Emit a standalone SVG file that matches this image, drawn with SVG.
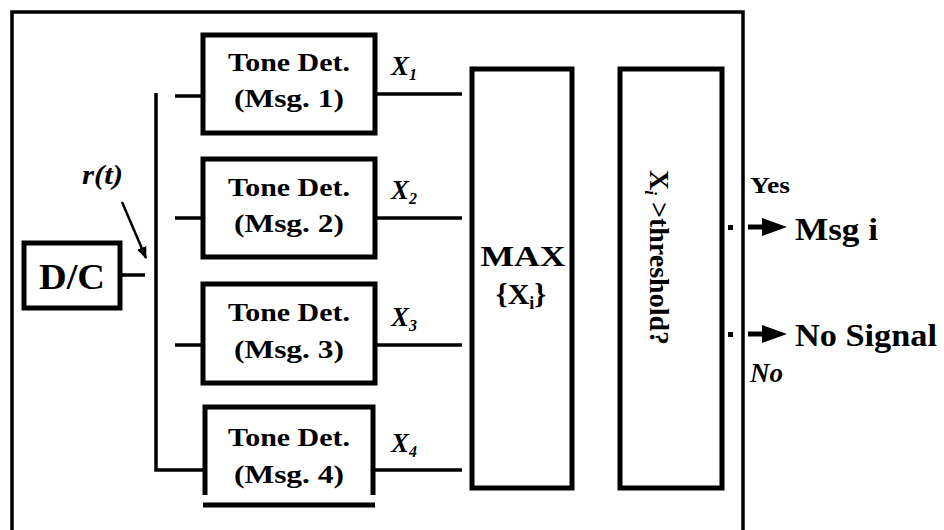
<svg xmlns="http://www.w3.org/2000/svg" width="944" height="530" viewBox="0 0 944 530">
  <style>
    .box { fill: #fff; stroke: #000; stroke-width: 5; }
    .wire { fill: none; stroke: #000; stroke-width: 3.5; }
    .frame { fill: none; stroke: #000; stroke-width: 3.5; }
    text { font-family: "Liberation Serif", "Times New Roman", "DejaVu Serif", serif; font-weight: bold; fill: #000; }
    .lbl { font-size: 26px; text-anchor: middle; }
    .it { font-style: italic; }
  </style>
  <defs>
    <marker id="head" markerWidth="12" markerHeight="10" refX="11" refY="5" orient="auto" markerUnits="userSpaceOnUse">
      <path d="M0,0 L12,5 L0,10 Z" fill="#000"/>
    </marker>
  </defs>

  <!-- outer enclosure: top, left and right edges only -->
  <path class="frame" d="M12,530 V12 H743 V530"/>

  <!-- connectors -->
  <g id="connectors">
    <!-- D/C to splitter -->
    <line class="wire" x1="120" y1="275" x2="145" y2="275"/>
    <!-- splitter bus -->
    <path class="wire" d="M156,93 V470 H203"/>
    <line class="wire" x1="175" y1="96" x2="203" y2="96"/>
    <line class="wire" x1="175" y1="218" x2="203" y2="218"/>
    <line class="wire" x1="175" y1="345" x2="203" y2="345"/>
    <!-- detector outputs -->
    <line class="wire" x1="375" y1="94" x2="462" y2="94"/>
    <line class="wire" x1="375" y1="218" x2="462" y2="218"/>
    <line class="wire" x1="375" y1="345" x2="462" y2="345"/>
    <line class="wire" x1="375" y1="470" x2="462" y2="470"/>
    <!-- r(t) pointer -->
    <line x1="122" y1="202" x2="146" y2="258" stroke="#000" stroke-width="2.5" marker-end="url(#head)"/>
    <!-- decision outputs -->
    <rect x="728" y="225" width="5" height="5" fill="#000"/>
    <rect x="728" y="332" width="5" height="5" fill="#000"/>
    <line x1="748" y1="227" x2="764" y2="227" stroke="#000" stroke-width="5"/>
    <path d="M762,218 L787,227 L762,236 Z" fill="#000"/>
    <line x1="748" y1="334" x2="764" y2="334" stroke="#000" stroke-width="5"/>
    <path d="M762,325 L787,334 L762,343 Z" fill="#000"/>
  </g>

  <!-- signal labels -->
  <text class="it" x="82" y="184" font-size="27" textLength="41" lengthAdjust="spacingAndGlyphs">r(t)</text>
  <text class="it" x="391" y="75" font-size="27">X<tspan font-size="16" dy="5">1</tspan></text>
  <text class="it" x="391" y="199" font-size="27">X<tspan font-size="16" dy="5">2</tspan></text>
  <text class="it" x="391" y="326" font-size="27">X<tspan font-size="16" dy="5">3</tspan></text>
  <text class="it" x="391" y="452" font-size="27">X<tspan font-size="16" dy="5">4</tspan></text>

  <g id="dc">
    <rect class="box" x="24" y="243" width="96" height="65"/>
    <text x="72" y="289" font-size="36" text-anchor="middle" textLength="66" lengthAdjust="spacingAndGlyphs">D/C</text>
  </g>

  <g id="det1">
    <rect class="box" x="203" y="35" width="172" height="98"/>
    <text class="lbl" x="289" y="71" textLength="122" lengthAdjust="spacingAndGlyphs">Tone Det.</text>
    <text class="lbl" x="289" y="107" textLength="110" lengthAdjust="spacingAndGlyphs">(Msg. 1)</text>
  </g>
  <g id="det2">
    <rect class="box" x="203" y="159" width="172" height="98"/>
    <text class="lbl" x="289" y="196" textLength="122" lengthAdjust="spacingAndGlyphs">Tone Det.</text>
    <text class="lbl" x="289" y="232" textLength="110" lengthAdjust="spacingAndGlyphs">(Msg. 2)</text>
  </g>
  <g id="det3">
    <rect class="box" x="203" y="284" width="172" height="99"/>
    <text class="lbl" x="289" y="321" textLength="122" lengthAdjust="spacingAndGlyphs">Tone Det.</text>
    <text class="lbl" x="289" y="358" textLength="110" lengthAdjust="spacingAndGlyphs">(Msg. 3)</text>
  </g>
  <g id="det4">
    <path class="box" d="M205,495 V407 H373 V495" fill="#fff"/>
    <line x1="203" y1="505" x2="375" y2="505" stroke="#000" stroke-width="5"/>
    <text class="lbl" x="289" y="446" textLength="122" lengthAdjust="spacingAndGlyphs">Tone Det.</text>
    <text class="lbl" x="289" y="483" textLength="110" lengthAdjust="spacingAndGlyphs">(Msg. 4)</text>
  </g>

  <g id="max">
    <rect class="box" x="472" y="69" width="100" height="419"/>
    <text x="523" y="266" font-size="30" text-anchor="middle" textLength="85" lengthAdjust="spacingAndGlyphs">MAX</text>
    <text x="521" y="304" font-size="30" text-anchor="middle">{X<tspan font-size="18" dy="5">i</tspan><tspan dy="-5">}</tspan></text>
  </g>

  <g id="threshold">
    <rect class="box" x="620" y="69" width="102" height="419"/>
    <text transform="translate(650,170) rotate(90)" font-size="28">X<tspan class="it" font-size="17" dy="5">i</tspan><tspan dy="-5"> &gt;threshold?</tspan></text>
  </g>

  <g id="outputs">
    <text x="750" y="193" font-size="24" textLength="40" lengthAdjust="spacingAndGlyphs">Yes</text>
    <text x="795" y="240" font-size="31" textLength="83" lengthAdjust="spacingAndGlyphs">Msg i</text>
    <text x="795" y="346" font-size="31" textLength="142" lengthAdjust="spacingAndGlyphs">No Signal</text>
    <text class="it" x="750" y="382" font-size="27">No</text>
  </g>
</svg>
